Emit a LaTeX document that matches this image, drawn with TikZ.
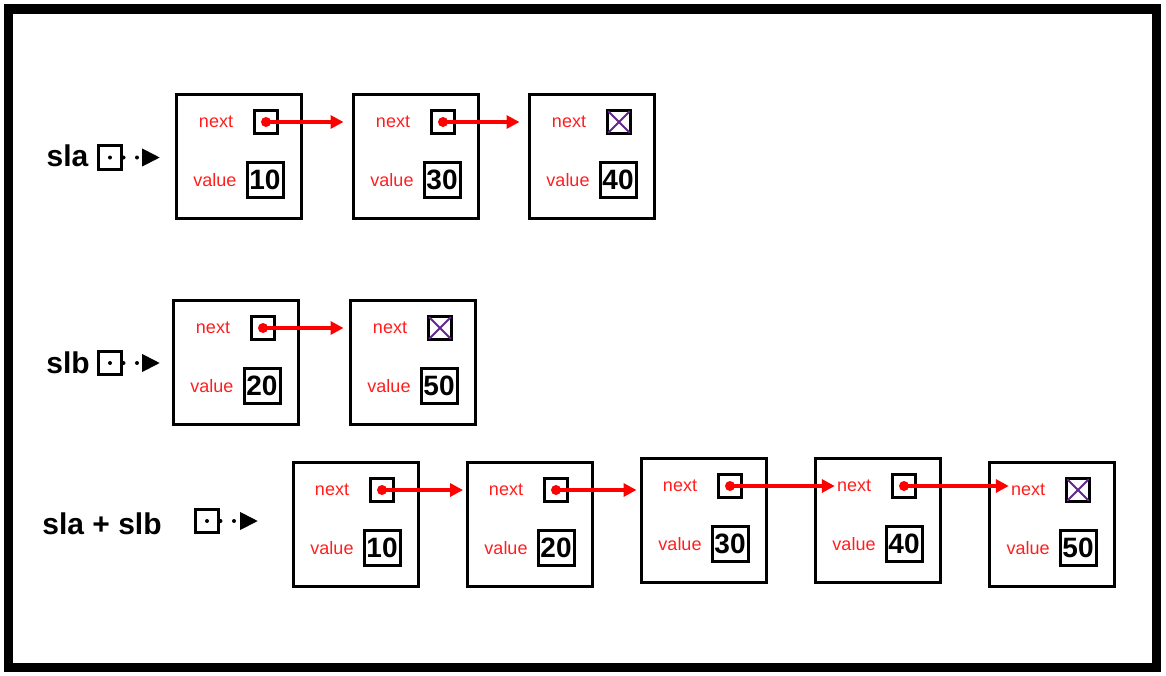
\documentclass[tikz,border=0pt]{standalone}
\usepackage{fontspec}
\setmainfont{Liberation Sans}
\usetikzlibrary{arrows.meta, calc}

\definecolor{fieldred}{RGB}{255,30,30}
\definecolor{nullpurple}{RGB}{95,40,140}

\tikzset{
  cell/.style={draw, line width=3.4pt, minimum width=125pt, minimum height=124pt,
               inner sep=0pt, outer sep=0pt},
  ptrbox/.style={draw, line width=3pt, minimum size=23.5pt, inner sep=0pt, outer sep=0pt},
  valbox/.style={draw, line width=3pt, minimum width=36pt, minimum height=35.5pt,
                 inner sep=0pt, outer sep=0pt, font=\fontsize{28}{28}\selectfont\bfseries},
  field/.style={text=fieldred, inner sep=0pt, font=\fontsize{18}{18}\selectfont},
  listname/.style={inner sep=0pt, font=\fontsize{30}{30}\selectfont\bfseries},
  link/.style={red, line width=3.3pt, -{Triangle[length=13pt, width=13pt]}},
  headptr/.style={line width=4pt, line cap=round, dash pattern=on 0pt off 13.5pt,
                  -{Triangle[length=18pt, width=17pt]}},
  nullx/.style={nullpurple, line width=2pt, shorten <=1.4pt, shorten >=1.4pt},
}

\begin{document}
\begin{tikzpicture}[x=1pt, y=-1pt]
  \useasboundingbox (0,0) rectangle (1166,675);

  % Frame
  \draw[line width=9.5pt] (8.5,9) rectangle (1156.5,667.5);

  % sla
  \foreach \i/\x/\v in {1/175/10, 2/352/30, 3/528/40} {
    \node[cell] (a\i) at (\x+64, 156.5) {};
    \node[field] (na\i) at ($(a\i)+(-23,-34.5)$) {next};
    \node[ptrbox] (pa\i) at ($(a\i)+(27,-34.5)$) {};
    \node[field] (la\i) at ($(a\i)+(-24,23.5)$) {value};
    \node[valbox] (va\i) at ($(a\i)+(26,23.5)$) {\v};
  }

  % slb
  \foreach \i/\x/\v in {1/172/20, 2/349/50} {
    \node[cell] (b\i) at (\x+64, 362.5) {};
    \node[field] (nb\i) at ($(b\i)+(-23,-34.5)$) {next};
    \node[ptrbox] (pb\i) at ($(b\i)+(27,-34.5)$) {};
    \node[field] (lb\i) at ($(b\i)+(-24,23.5)$) {value};
    \node[valbox] (vb\i) at ($(b\i)+(26,23.5)$) {\v};
  }

  % sla + slb
  \foreach \i/\x/\y/\v in {1/292/461/10, 2/466/461/20, 3/640/457/30,
                           4/814/457/40, 5/988/461/50} {
    \node[cell] (c\i) at (\x+64, \y+63.5) {};
    \node[field] (nc\i) at ($(c\i)+(-24,-34.5)$) {next};
    \node[ptrbox] (pc\i) at ($(c\i)+(26,-34.5)$) {};
    \node[field] (lc\i) at ($(c\i)+(-24,23.5)$) {value};
    \node[valbox] (vc\i) at ($(c\i)+(26,23.5)$) {\v};
  }

  % Null pointers
  \foreach \p in {pa3, pb2, pc5} {
    \draw[nullx] (\p.north west) -- (\p.south east);
    \draw[nullx] (\p.north east) -- (\p.south west);
  }

  % Links
  \draw[link, shorten >=10pt] (pa1.center) -- (a2.west |- pa1.center);
  \draw[link, shorten >=10pt] (pa2.center) -- (a3.west |- pa2.center);
  \draw[link, shorten >=7pt] (pb1.center) -- (b2.west |- pb1.center);
  \draw[link, shorten >=4.5pt] (pc1.center) -- (c2.west |- pc1.center);
  \draw[link, shorten >=5pt] (pc2.center) -- (c3.west |- pc2.center);
  \draw[link, shorten >=2pt] (pc3.center) -- (nc4.west |- pc3.center);
  \draw[link, shorten >=2pt] (pc4.center) -- (nc5.west |- pc4.center);
  \foreach \p in {pa1, pa2, pb1, pc1, pc2, pc3, pc4}
    \fill[red] (\p.center) circle (5pt);

  % List heads
  \node[listname] (sla) at (67.5,156) {sla};
  \node[ptrbox] (slap) at (110,157.5) {};
  \draw[headptr, shorten >=16.5pt] (slap.center) -- (a1.west |- slap.center);

  \node[listname] (slb) at (68,363) {slb};
  \node[ptrbox] (slbp) at (110,363) {};
  \draw[headptr, shorten >=13.5pt] (slbp.center) -- (b1.west |- slbp.center);

  \node[listname] (sum) at (102,524) {sla + slb};
  \node[ptrbox] (sump) at (207,521) {};
  \draw[headptr, shorten >=35.5pt] (sump.center) -- (c1.west |- sump.center);
\end{tikzpicture}
\end{document}
